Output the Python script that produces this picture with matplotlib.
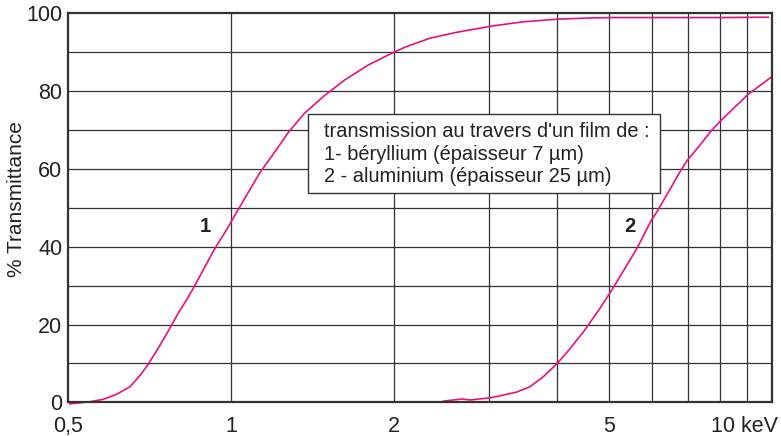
import matplotlib
matplotlib.use("Agg")
import matplotlib.pyplot as plt
from matplotlib.patches import Rectangle
from matplotlib.ticker import FixedLocator, NullLocator
from matplotlib.transforms import ScaledTranslation

plt.rcParams['font.family'] = ['Liberation Sans', 'DejaVu Sans']

# Beryllium 7 um
be_energy = [0.504, 0.549, 0.581, 0.615, 0.651, 0.679, 0.703, 0.734, 0.771, 0.799, 0.828, 0.852,
             0.931, 0.989, 1.032, 1.131, 1.206, 1.277, 1.37, 1.488, 1.624, 1.794, 1.982, 2.098,
             2.333, 2.61, 3.03, 3.46, 4.02, 4.61, 5.04, 6.13, 8.1, 9.84]
be_trans = [-0.4, 0.15, 0.77, 2.06, 4.0, 6.9, 9.7, 13.9, 19.0, 22.9, 26.3, 29.3,
            39.2, 45.1, 49.6, 59.0, 64.4, 69.4, 74.4, 78.8, 82.9, 86.7, 89.7, 91.3,
            93.6, 95.1, 96.7, 97.8, 98.5, 98.8, 98.9, 98.9, 98.9, 99.0]

# Aluminium 25 um
al_energy = [2.47, 2.67, 2.77, 3.03, 3.37, 3.57, 3.78, 4.01, 4.23, 4.51, 4.80, 5.06, 5.46, 5.63,
             5.99, 6.13, 6.48, 6.75, 6.98, 7.36, 7.67, 8.0, 9.04, 9.99]
al_trans = [0.3, 0.85, 0.6, 1.2, 2.6, 4.0, 6.6, 10.0, 13.7, 18.6, 24.0, 28.9, 36.5, 39.6,
            46.9, 49.0, 54.8, 59.1, 62.3, 66.1, 69.3, 72.1, 79.2, 83.7]

x_ticks = [0.5, 1, 2, 5, 10]
x_tick_labels = ['0,5', '1', '2', '5', '10 keV']
x_grid = [1, 2, 3, 4, 5, 6, 7, 8, 9]
y_ticks = [0, 20, 40, 60, 80, 100]
y_grid = [10, 20, 30, 40, 50, 60, 70, 80, 90]

legend_lines = ["transmission au travers d'un film de :",
                "1- béryllium (épaisseur 7 µm)",
                "2 - aluminium (épaisseur 25 µm)"]

curve_color = '#e8127f'
text_color = '#222222'

fig = plt.figure(figsize=(7.81, 4.36), dpi=100)
ax = fig.add_axes([68 / 781, 1 - 402.3 / 436, 704 / 781, 389 / 436])
ax.set_xscale('log')
ax.set_xlim(0.5, 10)
ax.set_ylim(0, 100)

for xv in x_grid:
    ax.axvline(xv, color='#333333', lw=0.9, zorder=1)
for yv in y_grid:
    ax.axhline(yv, color='#333333', lw=0.9, zorder=1)

ax.plot(be_energy, be_trans, color=curve_color, lw=1.2, zorder=3, clip_on=False)
ax.plot(al_energy, al_trans, color=curve_color, lw=1.2, zorder=3, clip_on=False)

ax.text(0.895, 45.3, '1', fontsize=14.5, fontweight='bold', color=text_color, ha='center', va='center')
ax.text(5.47, 45.3, '2', fontsize=14.5, fontweight='bold', color=text_color, ha='center', va='center')

# legend box
x0 = (308 - 68) / 704
x1 = (660 - 68) / 704
yb = (402.3 - 193) / 389
yt = (402.3 - 114) / 389
ax.add_patch(Rectangle((x0, yb), x1 - x0, yt - yb, transform=ax.transAxes,
                       facecolor='white', edgecolor='#333333', lw=1.0, zorder=4))
base_px = [136.7, 159.5, 182.5]
for line, bp in zip(legend_lines, base_px):
    ax.text((324 - 68) / 704, (402.3 - bp) / 389, line, transform=ax.transAxes,
            fontsize=14.4, color=text_color, ha='left', va='baseline', zorder=5)

ax.xaxis.set_major_locator(FixedLocator(x_ticks))
ax.xaxis.set_minor_locator(NullLocator())
ax.set_xticklabels(x_tick_labels)
ax.set_yticks(y_ticks)
ax.tick_params(axis='both', length=0, labelsize=15.5, labelcolor=text_color)
ax.tick_params(axis='x', pad=10)
ax.tick_params(axis='y', pad=4)
labels = ax.get_xticklabels()
labels[-1].set_horizontalalignment('right')
labels[-1].set_transform(labels[-1].get_transform() + ScaledTranslation(6 / 100, 0, fig.dpi_scale_trans))

ax.set_ylabel('% Transmittance', fontsize=15, color=text_color)
ax.yaxis.set_label_coords((26 - 68) / 704, (402.3 - 199) / 389)

for s in ax.spines.values():
    s.set_color('#333333')
    s.set_linewidth(1.6)
    s.set_zorder(6)

fig.savefig('out.png', dpi=100)
